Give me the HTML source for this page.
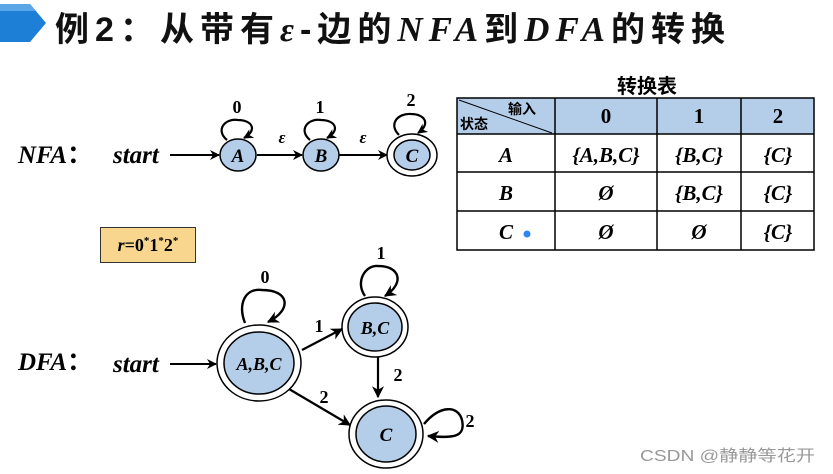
<!DOCTYPE html>
<html><head><meta charset="utf-8"><style>
html,body{margin:0;padding:0;background:#fff;}
svg{display:block;}
.s{font-family:"Liberation Serif",serif;font-style:italic;font-weight:bold;}
.n{font-family:"Liberation Serif",serif;font-weight:bold;}
.c{font-family:"Liberation Sans","Noto Sans CJK SC",sans-serif;font-weight:bold;}
</style></head><body>
<svg width="833" height="474" viewBox="0 0 833 474" xmlns="http://www.w3.org/2000/svg">
<defs>
<marker id="ar" viewBox="0 0 10 10" refX="9" refY="5" markerWidth="10" markerHeight="10" markerUnits="userSpaceOnUse" orient="auto">
<path d="M0,0 L10,5 L0,10 L3,5 z" fill="#000"/></marker>
<marker id="ar2" viewBox="0 0 10 10" refX="9" refY="5" markerWidth="12" markerHeight="12" markerUnits="userSpaceOnUse" orient="auto">
<path d="M0,0 L10,5 L0,10 L3,5 z" fill="#000"/></marker>
</defs>
<polygon points="0,4 30,4 46,23 30,42 0,42" fill="#1e7fd6"/>
<polygon points="0,4 30,4 36,11 0,11" fill="#5aa6e6"/>
<text x="55" y="41" font-size="34" class="c" fill="#111" textLength="670" lengthAdjust="spacing">例2：从带有<tspan class="s" font-weight="normal">ε</tspan>-边的<tspan class="s" font-weight="normal" font-size="35">NFA</tspan>到<tspan class="s" font-weight="normal" font-size="35">DFA</tspan>的转换</text>

<text x="18" y="163" font-size="25" class="s">NFA<tspan class="c" font-style="normal">：</tspan></text>
<text x="113" y="163" font-size="25" class="s">start</text>
<line x1="170" y1="155" x2="219" y2="155" stroke="#000" stroke-width="2" marker-end="url(#ar)"/>
<ellipse cx="238" cy="155" rx="18" ry="16" fill="#b4cde9" stroke="#000" stroke-width="1.5"/>
<text x="238" y="162" font-size="19" class="s" text-anchor="middle">A</text>
<line x1="257" y1="155" x2="302" y2="155" stroke="#000" stroke-width="2" marker-end="url(#ar)"/>
<ellipse cx="321" cy="155" rx="18" ry="16" fill="#b4cde9" stroke="#000" stroke-width="1.5"/>
<text x="321" y="162" font-size="19" class="s" text-anchor="middle">B</text>
<line x1="339" y1="155" x2="387" y2="155" stroke="#000" stroke-width="2" marker-end="url(#ar)"/>
<ellipse cx="412" cy="155" rx="25" ry="21" fill="#fff" stroke="#000" stroke-width="1.5"/>
<ellipse cx="412" cy="155" rx="18" ry="15" fill="#b4cde9" stroke="#000" stroke-width="1.5"/>
<text x="412" y="162" font-size="19" class="s" text-anchor="middle">C</text>
<text x="282" y="143" font-size="17" class="s" text-anchor="middle">ε</text>
<text x="363" y="143" font-size="17" class="s" text-anchor="middle">ε</text>
<path d="M227,140 C215,130 225,118 238,120 C252,120 258,130 244,138" fill="none" stroke="#000" stroke-width="2.2" marker-end="url(#ar)"/>
<path d="M310,140 C298,130 308,118 321,120 C335,120 341,130 327,138" fill="none" stroke="#000" stroke-width="2.2" marker-end="url(#ar)"/>
<path d="M399,135 C388,124 398,113 411,114 C425,114 431,124 418,133" fill="none" stroke="#000" stroke-width="2.2" marker-end="url(#ar)"/>
<text x="237" y="113" font-size="18" class="n" text-anchor="middle">0</text>
<text x="320" y="113" font-size="18" class="n" text-anchor="middle">1</text>
<text x="411" y="106" font-size="18" class="n" text-anchor="middle">2</text>

<text x="647" y="93" font-size="20" class="c" text-anchor="middle">转换表</text>
<rect x="457" y="98" width="357" height="36" fill="#b4cde9"/>
<g stroke="#000" stroke-width="1.5" fill="none">
<rect x="457" y="98" width="357" height="152"/>
<line x1="457" y1="134" x2="814" y2="134"/>
<line x1="457" y1="172" x2="814" y2="172"/>
<line x1="457" y1="211" x2="814" y2="211"/>
<line x1="555" y1="98" x2="555" y2="250"/>
<line x1="657" y1="98" x2="657" y2="250"/>
<line x1="741" y1="98" x2="741" y2="250"/>
<line x1="459" y1="100" x2="552" y2="133" stroke-width="1"/>
</g>
<text x="508" y="114" font-size="14" class="c">输入</text>
<text x="460" y="129" font-size="14" class="c">状态</text>
<g font-size="21" text-anchor="middle">
<text x="606" y="123" class="n">0</text>
<text x="699" y="123" class="n">1</text>
<text x="778" y="123" class="n">2</text>
<text x="506" y="162" class="s">A</text>
<text x="606" y="162" class="s" font-weight="normal">{<tspan font-weight="bold">A,B,C</tspan>}</text>
<text x="699" y="162" class="s" font-weight="normal">{<tspan font-weight="bold">B,C</tspan>}</text>
<text x="778" y="162" class="s" font-weight="normal">{<tspan font-weight="bold">C</tspan>}</text>
<text x="506" y="200" class="s">B</text>
<text x="606" y="200" class="s">Ø</text>
<text x="699" y="200" class="s" font-weight="normal">{<tspan font-weight="bold">B,C</tspan>}</text>
<text x="778" y="200" class="s" font-weight="normal">{<tspan font-weight="bold">C</tspan>}</text>
<text x="506" y="239" class="s">C</text>
<text x="606" y="239" class="s">Ø</text>
<text x="699" y="239" class="s">Ø</text>
<text x="778" y="239" class="s" font-weight="normal">{<tspan font-weight="bold">C</tspan>}</text>
</g>
<circle cx="527" cy="234" r="3.5" fill="#2f86f0"/>

<rect x="100.5" y="227.5" width="95" height="35" fill="#f8d68e" stroke="#333" stroke-width="1"/>
<text x="148" y="251" font-size="18" class="n" text-anchor="middle"><tspan font-style="italic">r</tspan>=0<tspan font-size="11" dy="-7">*</tspan><tspan dy="7">1</tspan><tspan font-size="11" dy="-7">*</tspan><tspan dy="7">2</tspan><tspan font-size="11" dy="-7">*</tspan></text>

<text x="18" y="370" font-size="25" class="s">DFA<tspan class="c" font-style="normal">：</tspan></text>
<text x="113" y="372" font-size="25" class="s">start</text>
<line x1="170" y1="364" x2="216" y2="364" stroke="#000" stroke-width="2" marker-end="url(#ar)"/>
<ellipse cx="259" cy="363" rx="42" ry="38" fill="#fff" stroke="#000" stroke-width="1.5"/>
<ellipse cx="259" cy="363" rx="35" ry="31" fill="#b4cde9" stroke="#000" stroke-width="1.5"/>
<text x="259" y="370" font-size="18" class="s" text-anchor="middle">A,B,C</text>
<ellipse cx="375" cy="327" rx="33" ry="30" fill="#fff" stroke="#000" stroke-width="1.5"/>
<ellipse cx="375" cy="327" rx="27" ry="24" fill="#b4cde9" stroke="#000" stroke-width="1.5"/>
<text x="375" y="334" font-size="18" class="s" text-anchor="middle">B,C</text>
<ellipse cx="386" cy="434" rx="37" ry="34" fill="#fff" stroke="#000" stroke-width="1.5"/>
<ellipse cx="386" cy="434" rx="30" ry="28" fill="#b4cde9" stroke="#000" stroke-width="1.5"/>
<text x="386" y="441" font-size="19" class="s" text-anchor="middle">C</text>
<line x1="302" y1="350" x2="342" y2="329" stroke="#000" stroke-width="2.2" marker-end="url(#ar2)"/>
<line x1="289" y1="389" x2="350" y2="425" stroke="#000" stroke-width="2.2" marker-end="url(#ar2)"/>
<line x1="378" y1="357" x2="378" y2="397" stroke="#000" stroke-width="2.2" marker-end="url(#ar2)"/>
<path d="M245,323 C238,305 244,288 262,290 C290,290 292,310 268,322" fill="none" stroke="#000" stroke-width="2.4" marker-end="url(#ar2)"/>
<path d="M365,296 C355,282 365,265 378,266 C400,266 405,283 385,296" fill="none" stroke="#000" stroke-width="2.4" marker-end="url(#ar2)"/>
<path d="M424,424 C440,405 458,405 462,420 C466,438 452,438 428,436" fill="none" stroke="#000" stroke-width="2.4" marker-end="url(#ar2)"/>
<text x="265" y="283" font-size="18" class="n" text-anchor="middle">0</text>
<text x="381" y="259" font-size="18" class="n" text-anchor="middle">1</text>
<text x="319" y="332" font-size="18" class="n" text-anchor="middle">1</text>
<text x="324" y="403" font-size="18" class="n" text-anchor="middle">2</text>
<text x="398" y="381" font-size="18" class="n" text-anchor="middle">2</text>
<text x="470" y="427" font-size="18" class="n" text-anchor="middle">2</text>

<text x="640" y="461" font-size="16" fill="#999" textLength="175" lengthAdjust="spacingAndGlyphs" font-family="'Liberation Sans','Noto Sans CJK SC',sans-serif">CSDN @静静等花开</text>
</svg>
</body></html>
